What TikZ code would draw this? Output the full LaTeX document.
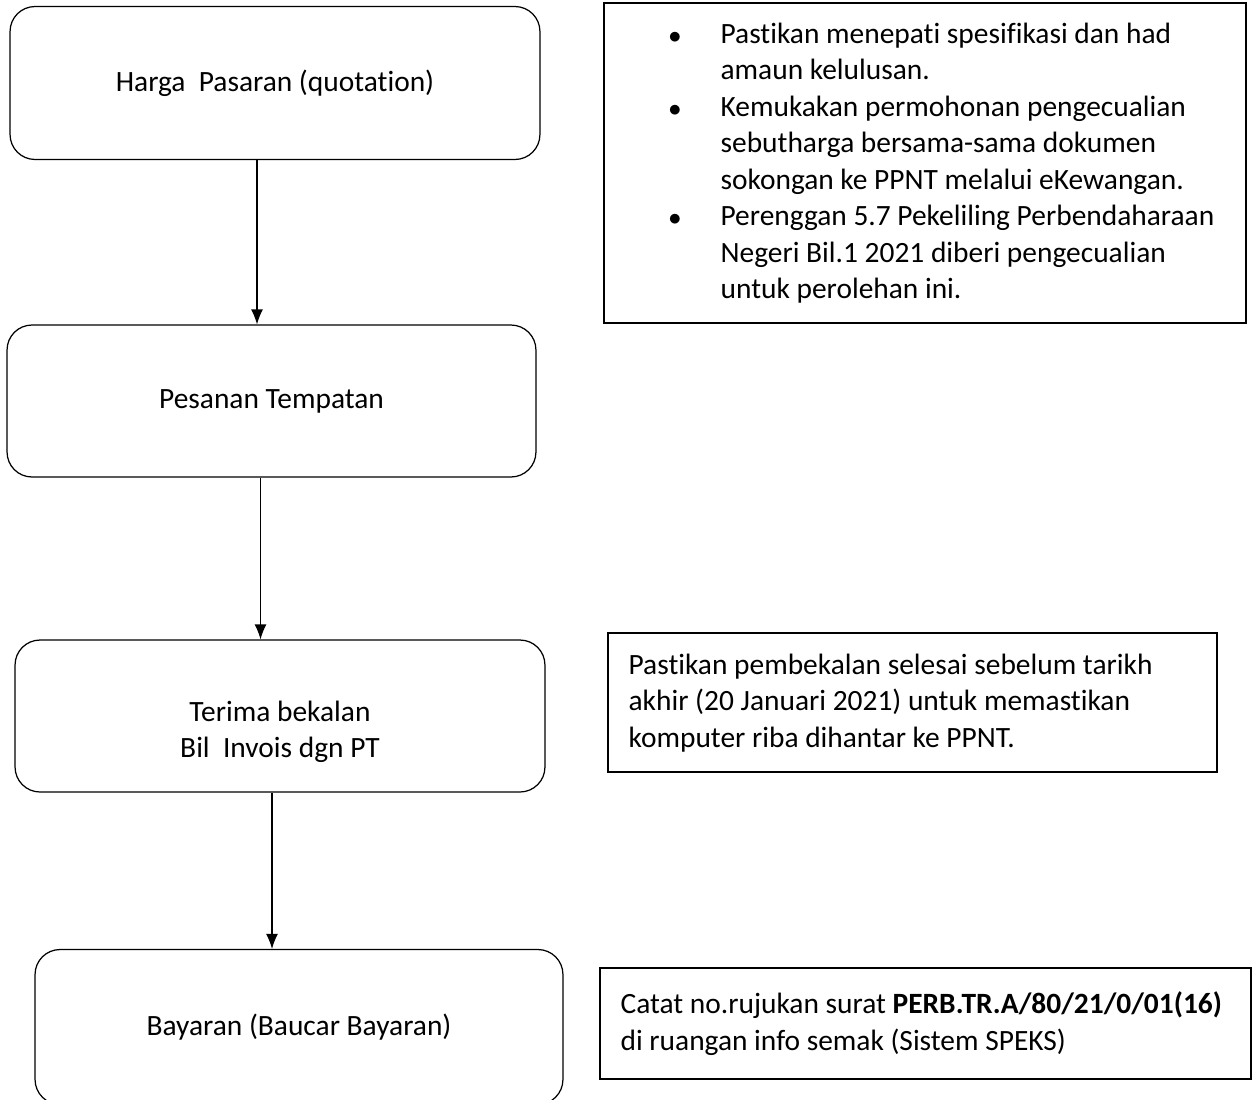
\documentclass[tikz,border=0pt]{standalone}
\usepackage{fontspec}
\setmainfont{Carlito}[Ligatures=NoCommon]
\usetikzlibrary{arrows.meta}
\tikzset{>={Latex[length=0.3cm,width=0.24cm]}}
\newcommand{\bt}{\fontsize{16.75pt}{20.8pt}\selectfont}
\newcommand{\bul}{\makebox[1.04cm][l]{\fontsize{14.5pt}{14.5pt}\selectfont$\bullet$}}
\tikzset{
  flowbox/.style={draw, rounded corners=0.5cm, line width=0.7pt, align=center, font=\bt},
  notebox/.style={draw, line width=0.7pt, inner sep=0pt},
  notetext/.style={align=left, anchor=north west, inner sep=0pt, font=\bt}
}

\begin{document}
\begin{tikzpicture}[x=0.02cm, y=-0.02cm, line width=0.7pt]
    \useasboundingbox (0,0) rectangle (1256,1099);
    % flow
    \node (harga) at (275,83) [flowbox, minimum width=10.6cm, minimum height=3.06cm]{Harga\ \ Pasaran (quotation)};
    \node (pesanan) at (271.5,401) [flowbox, minimum width=10.58cm, minimum height=3.04cm]{Pesanan Tempatan};
    \node (terima) at (280,716) [flowbox, minimum width=10.6cm, minimum height=3.04cm]{};
    \node (terimatext) at ([yshift=-0.32cm]terima.center) [align=center, font=\bt]{Terima bekalan\\ Bil\ \ Invois dgn PT};
    \node (bayaran) at (299,1027) [flowbox, minimum width=10.56cm, minimum height=3.1cm]{Bayaran (Baucar Bayaran)};
    \draw [->] ([xshift=-0.36cm]harga.south) -- ([xshift=-0.36cm]harga.south |- pesanan.north);
    \draw [->] ([xshift=-0.22cm]pesanan.south) -- ([xshift=-0.22cm]pesanan.south |- terima.north);
    \draw [->] ([xshift=-0.16cm]terima.south) -- ([xshift=-0.16cm]terima.south |- bayaran.north);
    % notes
    \node (spek) at (925,163) [notebox, minimum width=12.84cm, minimum height=6.4cm]{};
    \node (spektext) at (668,22) [notetext]{%
      \bul Pastikan menepati spesifikasi dan had\\
      \hspace*{1.04cm}amaun kelulusan.\\
      \bul Kemukakan permohonan pengecualian\\
      \hspace*{1.04cm}sebutharga bersama-sama dokumen\\
      \hspace*{1.04cm}sokongan ke PPNT melalui eKewangan.\\
      \bul Perenggan 5.7 Pekeliling Perbendaharaan\\
      \hspace*{1.04cm}Negeri Bil.1 2021 diberi pengecualian\\
      \hspace*{1.04cm}untuk perolehan ini.};
    \node (tarikh) at (912.5,702.5) [notebox, minimum width=12.18cm, minimum height=2.78cm]{};
    \node (tarikhtext) at (628,653) [notetext]{%
      Pastikan pembekalan selesai sebelum tarikh\\
      akhir (20 Januari 2021) untuk memastikan\\
      komputer riba dihantar ke PPNT.};
    \node (rujukan) at (925.5,1023.5) [notebox, minimum width=13.02cm, minimum height=2.22cm]{};
    \node (rujukantext) at (620,991) [notetext]{%
      Catat no.rujukan surat \textbf{PERB.TR.A/80/21/0/01(16)}\\
      di ruangan info semak (Sistem SPEKS)};
\end{tikzpicture}
\end{document}
